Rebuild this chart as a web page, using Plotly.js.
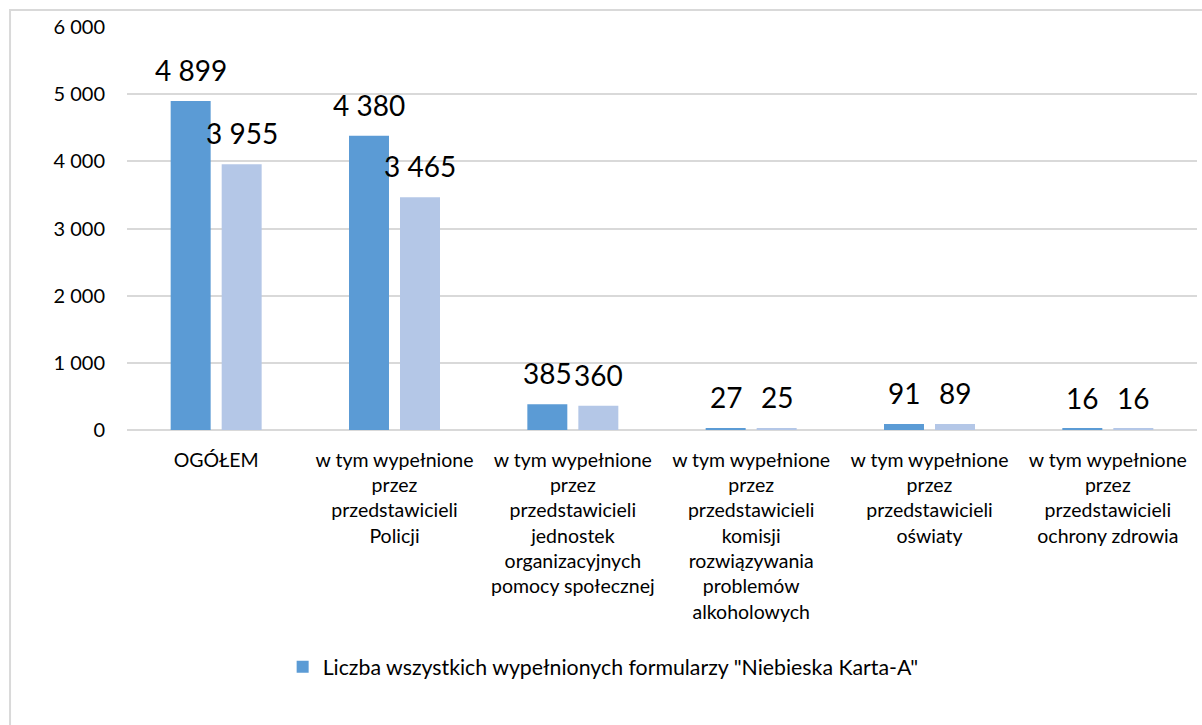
<!DOCTYPE html>
<html>
<head>
<meta charset="utf-8">
<script src="https://cdn.plot.ly/plotly-3.0.1.min.js"></script>
<style>html,body{margin:0;padding:0;background:#fff;}#chart{width:1202px;height:725px;}</style>
</head>
<body>
<div id="chart"></div>
<script>
const categories = [
  "OGÓŁEM",
  "w tym wypełnione przez przedstawicieli Policji",
  "w tym wypełnione przez przedstawicieli jednostek organizacyjnych pomocy społecznej",
  "w tym wypełnione przez przedstawicieli komisji rozwiązywania problemów alkoholowych",
  "w tym wypełnione przez przedstawicieli oświaty",
  "w tym wypełnione przez przedstawicieli ochrony zdrowia"
];
const tickLabels = [
  "OGÓŁEM",
  "w tym wypełnione<br>przez<br>przedstawicieli<br>Policji",
  "w tym wypełnione<br>przez<br>przedstawicieli<br>jednostek<br>organizacyjnych<br>pomocy społecznej",
  "w tym wypełnione<br>przez<br>przedstawicieli<br>komisji<br>rozwiązywania<br>problemów<br>alkoholowych",
  "w tym wypełnione<br>przez<br>przedstawicieli<br>oświaty",
  "w tym wypełnione<br>przez<br>przedstawicieli<br>ochrony zdrowia"
];
const seriesNames = [
  'Liczba wszystkich wypełnionych formularzy "Niebieska Karta-A"',
  'Seria 2'
];
const seriesA = [4899, 4380, 385, 27, 91, 16];
const seriesB = [3955, 3465, 360, 25, 89, 16];
const yTicks = [0, 1000, 2000, 3000, 4000, 5000, 6000];

const FONT = "Lato, 'Open Sans', sans-serif";
const colA = "#5b9bd5", colB = "#b4c7e7";

const traces = [
  {type: 'bar', x: categories, y: seriesA, name: seriesNames[0], marker: {color: colA}, showlegend: true, hoverinfo: 'y'},
  {type: 'bar', x: categories, y: seriesB, name: seriesNames[1], marker: {color: colB}, showlegend: false, hoverinfo: 'y'}
];

const fmt = v => String(v).replace(/\B(?=(\d{3})+(?!\d))/g, ' ');
const annotations = [];
[[seriesA, -25.5], [seriesB, 25.5]].forEach(([vals, xs]) => {
  vals.forEach((v, j) => {
    annotations.push({
      x: categories[j], y: v, xref: 'x', yref: 'y', text: fmt(v),
      showarrow: false, xanchor: 'center', yanchor: 'bottom',
      xshift: xs, yshift: 12,
      font: {family: FONT, size: 28, color: '#000'}
    });
  });
});

const layout = {
  width: 1202, height: 725,
  margin: {l: 127, r: 5, t: 27, b: 295},
  paper_bgcolor: '#fff', plot_bgcolor: '#fff',
  font: {family: FONT, color: '#000'},
  separators: ', ',
  barmode: 'group', bargap: 0.428, bargroupgap: 0.216,
  showlegend: true,
  legend: {orientation: 'h', x: 0.445, xanchor: 'center', y: -0.588, yanchor: 'middle',
           font: {family: FONT, size: 21.3, color: '#000'}, itemwidth: 30},
  xaxis: {type: 'category', categoryarray: categories, tickvals: categories, ticktext: tickLabels,
          tickangle: 0, showgrid: false, showline: false, zeroline: false, ticks: '',
          tickfont: {family: FONT, size: 19.5, color: '#000'}, ticklabelstandoff: 16},
  yaxis: {range: [0, 6000], tickvals: yTicks, tickformat: ',d', showgrid: true, gridcolor: '#d9d9d9',
          gridwidth: 1.5, zeroline: true, zerolinecolor: '#d9d9d9', zerolinewidth: 2, showline: false, ticks: '',
          tickfont: {family: FONT, size: 20, color: '#000'}, ticklabelstandoff: 21},
  annotations: annotations,
  shapes: [
    {type: 'rect', xref: 'paper', yref: 'paper', x0: -0.1093, x1: 1.03, y0: -0.78, y1: 1.0422,
     line: {color: '#d9d9d9', width: 2}, fillcolor: 'rgba(0,0,0,0)', layer: 'below'}
  ]
};

Plotly.newPlot('chart', traces, layout, {displayModeBar: false, responsive: false});
</script>
</body>
</html>
